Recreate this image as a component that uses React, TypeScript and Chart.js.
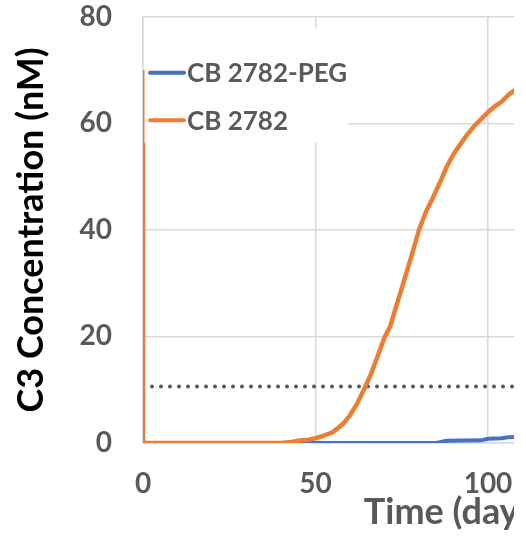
import React, { useEffect, useRef } from "react";
import { Chart, registerables } from "chart.js";

Chart.register(...registerables);

// ---- data ----
const pegDays = [0, 40, 85, 88, 98, 100, 104, 106, 110];
const pegValues = [0, 0, 0, 0.4, 0.5, 0.8, 0.9, 1.1, 1.2];

const freeDays = [
  0, 0, 40, 43, 46, 48, 50, 52, 55, 58, 60, 62, 64, 66, 68, 70, 71.6, 74, 76, 78,
  80, 82, 84, 86, 88, 90, 92, 94, 96, 98, 100, 102, 104, 106, 108, 110,
];
const freeValues = [
  70, 0, 0, 0.2, 0.5, 0.6, 0.9, 1.3, 2.0, 3.6, 5.2, 7.3, 10.0, 12.8, 16.3, 19.8, 21.8, 26.9, 31.2, 35.5,
  40, 43.4, 46, 48.8, 51.8, 54.2, 56.1, 57.9, 59.5, 60.8, 62.1, 63.2, 64.1, 65.4, 66.3, 67,
];

const thresholdDays = [0, 180];
const thresholdValue = 10.6;

const seriesLabels = ["CB 2782-PEG", "CB 2782"];
const seriesColors = ["#4472C4", "#ED7D31"];

const xMin = 0;
const xMax = 180;
const xStep = 50;
const yMin = 0;
const yMax = 80;
const yStep = 20;

const xTitle = "Time (days)";
const yTitle = "C3 Concentration (nM)";

const FONT = "Lato";

const toPoints = (xs: number[], ys: number[]) => xs.map((x, i) => ({ x, y: ys[i] }));

const insideLegend = {
  id: "insideLegend",
  afterDatasetsDraw(chart: any) {
    const { ctx, chartArea } = chart;
    const x0 = chartArea.left;
    const y0 = chartArea.top;
    ctx.save();
    ctx.fillStyle = "#ffffff";
    ctx.fillRect(x0 + 1.5, y0 + 11, 203, 115);
    const rows = [56, 103.5];
    seriesLabels.forEach((label, i) => {
      const y = y0 + rows[i];
      ctx.strokeStyle = seriesColors[i];
      ctx.lineWidth = 4;
      ctx.lineCap = "round";
      ctx.beginPath();
      ctx.moveTo(x0 + 7, y);
      ctx.lineTo(x0 + 41, y);
      ctx.stroke();
      ctx.fillStyle = "#595959";
      ctx.font = `bold 26px ${FONT}`;
      ctx.textBaseline = "middle";
      ctx.textAlign = "left";
      ctx.fillText(label, x0 + 44, y + 1);
    });
    ctx.restore();
  },
};

export default function App() {
  const ref = useRef<HTMLCanvasElement | null>(null);

  useEffect(() => {
    if (!ref.current) return;
    const chart = new Chart(ref.current, {
      type: "line",
      data: {
        datasets: [
          {
            label: seriesLabels[0],
            data: toPoints(pegDays, pegValues),
            borderColor: seriesColors[0],
            backgroundColor: seriesColors[0],
            borderWidth: 4,
            pointRadius: 0,
            tension: 0,
            order: 2,
          },
          {
            label: seriesLabels[1],
            data: toPoints(freeDays, freeValues),
            borderColor: seriesColors[1],
            backgroundColor: seriesColors[1],
            borderWidth: 4.5,
            pointRadius: 0,
            tension: 0,
            order: 1,
          },
          {
            label: "threshold",
            data: thresholdDays.map((x) => ({ x, y: thresholdValue })),
            borderColor: "#595959",
            borderWidth: 4,
            borderDash: [0, 9],
            borderCapStyle: "round",
            pointRadius: 0,
            order: 3,
          },
        ],
      },
      options: {
        responsive: false,
        animation: false,
        devicePixelRatio: 1,
        layout: { padding: { left: 0, right: 36, top: 0, bottom: 0 } },
        plugins: { legend: { display: false }, tooltip: { enabled: false } },
        scales: {
          x: {
            type: "linear",
            min: xMin,
            max: xMax,
            ticks: {
              stepSize: xStep,
              color: "#595959",
              font: { family: FONT, size: 28, weight: "bold" },
              padding: 0,
              maxRotation: 0,
              autoSkip: false,
            },
            grid: {
              color: "#D9D9D9",
              lineWidth: 1.5,
              drawTicks: true,
              tickLength: 24,
              tickColor: "rgba(0,0,0,0)",
            },
            border: { color: "#D9D9D9", width: 1.5 },
            title: {
              display: true,
              text: xTitle,
              color: "#595959",
              font: { family: FONT, size: 36, weight: "bold" },
              padding: { top: 0, bottom: 14 },
            },
            afterFit: (s: any) => {
              s.height = 105;
            },
          },
          y: {
            min: yMin,
            max: yMax,
            ticks: {
              stepSize: yStep,
              color: "#595959",
              font: { family: FONT, size: 28, weight: "bold" },
              padding: 0,
            },
            grid: {
              color: "#D9D9D9",
              lineWidth: 1.5,
              drawTicks: true,
              tickLength: 31,
              tickColor: "rgba(0,0,0,0)",
            },
            border: { color: "#D9D9D9", width: 1.5 },
            title: {
              display: true,
              text: yTitle,
              color: "#000000",
              font: { family: FONT, size: 36, weight: "bold" },
              padding: { top: 10, bottom: 0 },
            },
            afterFit: (s: any) => {
              s.width = 143;
            },
          },
        },
      } as any,
      plugins: [insideLegend],
    });
    return () => chart.destroy();
  }, []);

  return (
    <div
      style={{
        position: "absolute",
        left: 0,
        top: 0,
        width: 514,
        height: 548,
        overflow: "hidden",
        background: "#ffffff",
      }}
    >
      <canvas ref={ref} width={800} height={548} style={{ display: "block" }} />
    </div>
  );
}
